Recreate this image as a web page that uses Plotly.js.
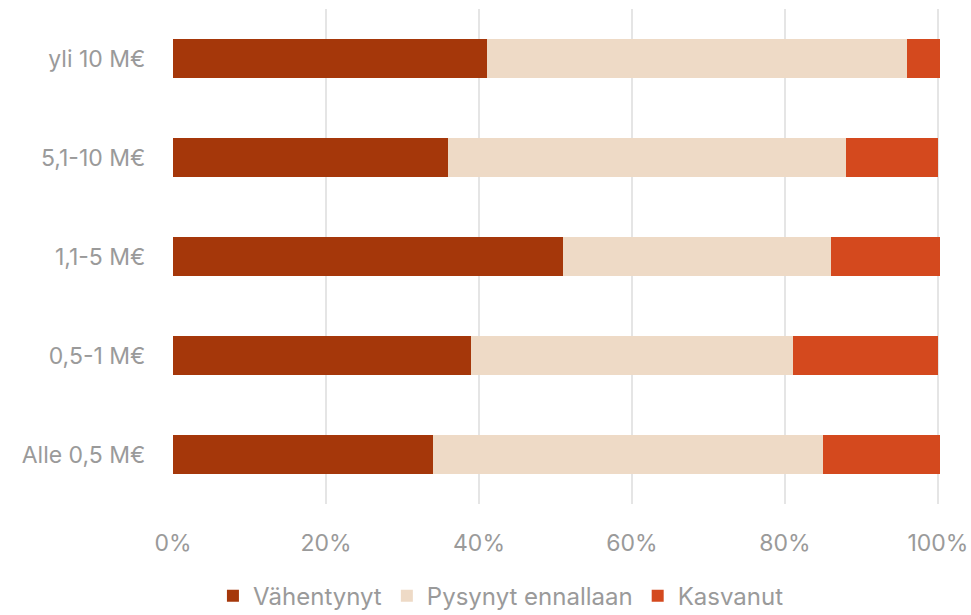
<!DOCTYPE html>
<html>
<head>
<meta charset="utf-8">
<script src="https://cdn.plot.ly/plotly-3.0.1.min.js"></script>
<style>html,body{margin:0;padding:0;background:#fff;}#chart{width:971px;height:615px;}</style>
</head>
<body>
<div id="chart"></div>
<script>
const categories = ['Alle 0,5 M€', '0,5-1 M€', '1,1-5 M€', '5,1-10 M€', 'yli 10 M€'];
const seriesNames = ['Vähentynyt', 'Pysynyt ennallaan', 'Kasvanut'];
const vahentynyt = [34, 39, 51, 36, 41];
const pysynyt = [51, 42, 35, 52, 55];
const kasvanut = [15.3, 19, 14.3, 12, 4.3];
const tickVals = [0, 20, 40, 60, 80, 100];
const tickText = ['0%', '20%', '40%', '60%', '80%', '100%'];
const colors = ['#A5370A', '#EEDAC6', '#D4491E'];

const font = 'Inter, "Open Sans", sans-serif';
const grey = '#9a9a9a';
const values = [vahentynyt, pysynyt, kasvanut];
const data = seriesNames.map((name, i) => ({
  type: 'bar',
  orientation: 'h',
  name: name,
  y: categories,
  x: values[i],
  marker: {color: colors[i], line: {width: 0}},
  hoverinfo: 'x+y+name'
}));

const layout = {
  width: 971, height: 615,
  margin: {l: 173, r: 30, t: 9, b: 111, autoexpand: false},
  paper_bgcolor: '#ffffff',
  plot_bgcolor: '#ffffff',
  barmode: 'stack',
  bargap: 0.6,
  font: {family: font, color: grey, size: 23},
  xaxis: {
    range: [0, 100.4],
    tickvals: tickVals,
    ticktext: tickText,
    showgrid: true,
    gridcolor: '#e5e5e5',
    gridwidth: 2,
    zeroline: false,
    showline: false,
    ticks: 'outside',
    ticklen: 18,
    tickcolor: 'rgba(0,0,0,0)',
    tickfont: {family: font, color: grey, size: 23},
    fixedrange: true
  },
  yaxis: {
    showgrid: false,
    zeroline: false,
    showline: false,
    ticks: 'outside',
    ticklen: 22,
    tickcolor: 'rgba(0,0,0,0)',
    tickfont: {family: font, color: grey, size: 23},
    fixedrange: true
  },
  legend: {
    orientation: 'h',
    x: 0.427, xanchor: 'center',
    y: -0.186, yanchor: 'middle',
    traceorder: 'normal',
    font: {family: font, color: grey, size: 24},
    itemwidth: 30,
    tracegroupgap: 0
  },
  showlegend: true
};

Plotly.newPlot('chart', data, layout, {displayModeBar: false, staticPlot: true});
</script>
</body>
</html>
